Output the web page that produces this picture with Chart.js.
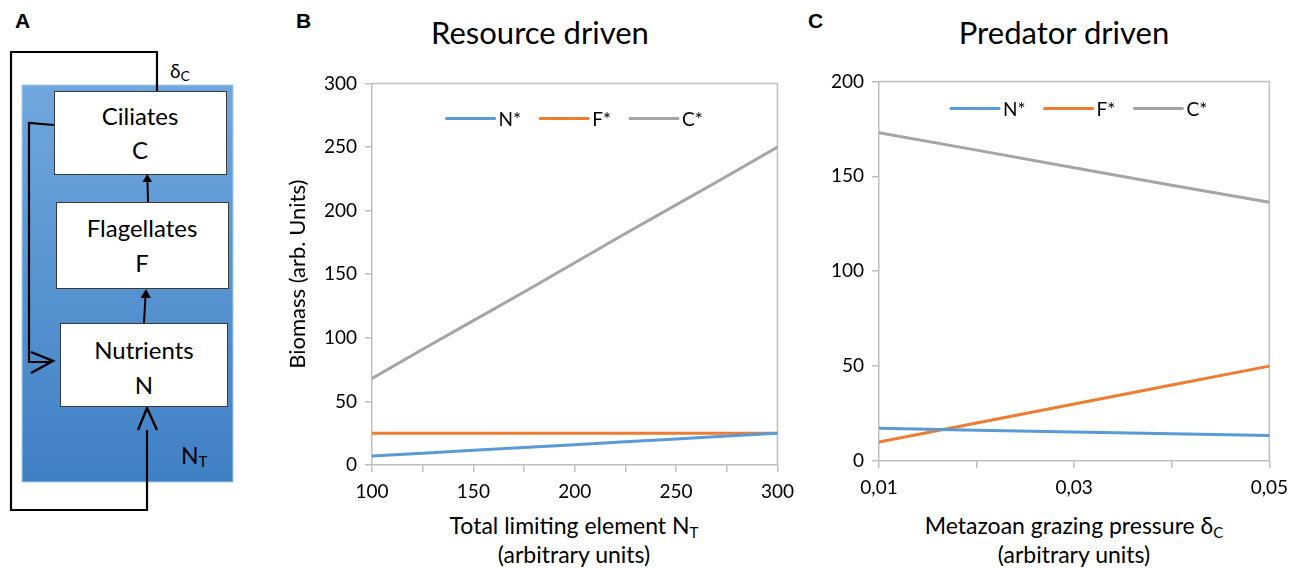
<!DOCTYPE html>
<html>
<head>
<meta charset="utf-8">
<script src="https://cdn.jsdelivr.net/npm/chart.js@4/dist/chart.umd.min.js"></script>
<style>
  html, body { margin: 0; padding: 0; background: #fff; }
  #wrap { position: relative; width: 1297px; height: 569px; overflow: hidden; font-family: Lato, "Liberation Sans", sans-serif; color: #000; }
  .abs { position: absolute; }
  .letter { font-family: "Liberation Sans", Arial, sans-serif; font-weight: bold; font-size: 21px; }
  .title { font-size: 31px; text-align: center; white-space: nowrap; }
  .xt { font-size: 23px; text-align: center; white-space: nowrap; line-height: 29px; }
  .xt sub { font-size: 15px; vertical-align: -4px; line-height: 0; }
  canvas { position: absolute; }
</style>
</head>
<body>
<div id="wrap">
  <svg class="abs" style="left:0;top:0" width="260" height="520" viewBox="0 0 260 520">
    <defs>
      <linearGradient id="bg" x1="0" y1="0" x2="0" y2="1">
        <stop offset="0" stop-color="#70a7de"/>
        <stop offset="1" stop-color="#3f80c4"/>
      </linearGradient>
    </defs>
    <rect x="22" y="85" width="211" height="397" fill="url(#bg)" stroke="#a9cbea" stroke-width="1"/>
    <!-- outer loop -->
    <polyline points="147,430 147,510 11,510 11,52 157,52 157,91" fill="none" stroke="#000" stroke-width="2.2"/>
    <polyline points="138,430 147,408 157,430" fill="none" stroke="#000" stroke-width="2.4"/>
    <!-- inner loop -->
    <polyline points="54,125 29,123 29,362 52,362" fill="none" stroke="#000" stroke-width="2.2"/>
    <polyline points="31,352 53,361 31,373" fill="none" stroke="#000" stroke-width="2.4"/>
    <!-- boxes -->
    <rect x="54.5" y="91.5" width="172" height="83" fill="#fff" stroke="#3a3a3a" stroke-width="1"/>
    <rect x="56.5" y="202.5" width="172" height="86" fill="#fff" stroke="#3a3a3a" stroke-width="1"/>
    <rect x="60.5" y="323.5" width="167" height="83" fill="#fff" stroke="#3a3a3a" stroke-width="1"/>
    <!-- small arrows -->
    <line x1="148" y1="202" x2="147.5" y2="181" stroke="#000" stroke-width="2"/>
    <polygon points="142.5,182 147.3,174 152,182" fill="#000"/>
    <line x1="144" y1="323" x2="145.5" y2="296" stroke="#000" stroke-width="2"/>
    <polygon points="140.5,298 146,289 151,298" fill="#000"/>
    <g font-family="Lato, sans-serif" font-size="24" text-anchor="middle" fill="#000">
      <text x="140" y="125">Ciliates</text>
      <text x="140" y="159">C</text>
      <text x="142" y="237">Flagellates</text>
      <text x="142" y="272">F</text>
      <text x="144" y="359">Nutrients</text>
      <text x="144" y="394">N</text>
    </g>
    <text x="170" y="78" font-family="Lato, sans-serif" font-size="19" fill="#000">δ<tspan font-size="14" dy="3">C</tspan></text>
    <text x="181" y="464" font-family="Lato, sans-serif" font-size="23" fill="#000">N<tspan font-size="15" dy="3">T</tspan></text>
  </svg>

  <div class="abs letter" style="left:15px;top:9px;">A</div>
  <div class="abs letter" style="left:296px;top:9px;">B</div>
  <div class="abs letter" style="left:808px;top:9px;">C</div>

  <div class="abs title" style="left:390px;top:13px;width:300px;">Resource driven</div>
  <div class="abs title" style="left:914px;top:13px;width:300px;">Predator driven</div>

  <canvas id="cB" width="517" height="441" style="left:285px;top:64px;width:517px;height:441px;"></canvas>
  <canvas id="cC" width="486" height="440" style="left:810px;top:62px;width:486px;height:440px;"></canvas>

  <div class="abs xt" style="left:424px;top:511px;width:300px;">Total limiting element N<sub>T</sub><br>(arbitrary units)</div>
  <div class="abs xt" style="left:924px;top:511px;width:300px;">Metazoan grazing pressure δ<sub>C</sub><br>(arbitrary units)</div>
</div>

<script>
// ---------- Data ----------
const seriesNames = ['N*', 'F*', 'C*'];
const seriesColors = ['#5b9bd5', '#ed7d31', '#a5a5a5'];

// Panel B: Resource driven
const nTotal = [100, 125, 150, 175, 200, 225, 250, 275, 300];
const resN = [7, 9.3, 11.5, 13.8, 16, 18.3, 20.5, 22.8, 25];
const resF = [25, 25, 25, 25, 25, 25, 25, 25, 25];
const resC = [68, 91, 113.5, 136, 159, 182, 204.5, 227, 250];
const resYTicks = [0, 50, 100, 150, 200, 250, 300];
const resXLabels = [100, 150, 200, 250, 300];

// Panel C: Predator driven
const deltaC = [0.01, 0.02, 0.03, 0.04, 0.05];
const predN = [17.2, 16.2, 15.3, 14.3, 13.4];
const predF = [10, 20, 30, 40, 50];
const predC = [173, 163.8, 154.5, 145.3, 136.3];
const predYTicks = [0, 50, 100, 150, 200];
const predXLabels = ['0,01', '0,03', '0,05'];

// ---------- Helpers ----------
const AX = '#bfbfbf';
const FONT = 'Lato, "Liberation Sans", sans-serif';

function ds(xs, ys, i) {
  return {
    label: seriesNames[i],
    data: xs.map((x, k) => ({ x: x, y: ys[k] })),
    borderColor: seriesColors[i],
    backgroundColor: seriesColors[i],
    borderWidth: 3,
    pointRadius: 0,
    tension: 0,
    borderCapStyle: 'round'
  };
}

const framePlugin = {
  id: 'frame',
  beforeDatasetsDraw(chart) {
    const { ctx, chartArea: a } = chart;
    ctx.save();
    ctx.strokeStyle = AX;
    ctx.lineWidth = 1.5;
    ctx.beginPath();
    ctx.moveTo(a.left, a.top);
    ctx.lineTo(a.right, a.top);
    ctx.lineTo(a.right, a.bottom);
    ctx.stroke();
    ctx.restore();
  },
  afterDatasetsDraw(chart, args, opts) {
    const { ctx, chartArea: a } = chart;
    ctx.save();
    ctx.font = '19px ' + FONT;
    ctx.textBaseline = 'middle';
    const lineLen = 48, gap = 4, itemGap = 19;
    const items = chart.data.datasets.map(d => ({ t: d.label, c: d.borderColor, w: ctx.measureText(d.label).width }));
    let total = 0;
    items.forEach((it, i) => { total += lineLen + gap + it.w + (i < items.length - 1 ? itemGap : 0); });
    let x = (a.left + a.right) / 2 - total / 2 + (opts.dx || 0);
    const y = a.top + opts.dy;
    items.forEach(it => {
      ctx.strokeStyle = it.c;
      ctx.lineWidth = 3;
      ctx.lineCap = 'round';
      ctx.beginPath();
      ctx.moveTo(x, y);
      ctx.lineTo(x + lineLen, y);
      ctx.stroke();
      ctx.fillStyle = '#000';
      ctx.fillText(it.t, x + lineLen + gap, y + 1);
      x += lineLen + gap + it.w + itemGap;
    });
    ctx.restore();
  }
};

function makeChart(id, xs, ys, cfg) {
  return new Chart(document.getElementById(id), {
    type: 'line',
    data: { datasets: ys.map((arr, i) => ds(xs, arr, i)) },
    plugins: [framePlugin],
    options: {
      responsive: false,
      animation: false,
      events: [],
      layout: { padding: cfg.padding },
      plugins: {
        legend: { display: false },
        tooltip: { enabled: false },
        frame: { dy: cfg.legendDy, dx: cfg.legendDx || 0 }
      },
      scales: {
        x: {
          type: 'linear',
          min: xs[0],
          max: xs[xs.length - 1],
          afterBuildTicks: s => { s.ticks = xs.map(v => ({ value: v })); },
          afterFit: s => { s.height = cfg.xHeight; },
          ticks: {
            autoSkip: false,
            maxRotation: 0,
            padding: cfg.xTickPad,
            color: '#000',
            font: { family: FONT, size: 19 },
            callback: (v, idx) => (idx % 2 === 0 ? cfg.xLabels[idx / 2] : '')
          },
          grid: { display: true, drawOnChartArea: false, drawTicks: true, tickLength: 7, color: AX, lineWidth: 1.5 },
          border: { display: true, color: AX, width: 1.5 }
        },
        y: {
          min: cfg.yTicks[0],
          max: cfg.yTicks[cfg.yTicks.length - 1],
          afterBuildTicks: s => { s.ticks = cfg.yTicks.map(v => ({ value: v })); },
          afterFit: s => { s.width = cfg.yWidth; },
          ticks: { padding: 8, color: '#000', font: { family: FONT, size: 19 } },
          title: cfg.yTitle ? { display: true, text: cfg.yTitle, color: '#000', font: { family: FONT, size: 22 }, padding: { top: 0, bottom: 0 } } : { display: false },
          grid: { display: true, drawOnChartArea: false, drawTicks: true, tickLength: 7, color: AX, lineWidth: 1.5 },
          border: { display: true, color: AX, width: 1.5 }
        }
      }
    }
  });
}

makeChart('cB', nTotal, [resN, resF, resC], {
  padding: { left: 0, top: 7, right: 21, bottom: 0 },
  xHeight: 40, yWidth: 87, xTickPad: 8,
  yTicks: resYTicks, xLabels: resXLabels,
  yTitle: 'Biomass (arb. Units)', legendDy: 35
});
makeChart('cC', deltaC, [predN, predF, predC], {
  padding: { left: 0, top: 11, right: 15, bottom: 0 },
  xHeight: 41, yWidth: 69, xTickPad: 8,
  yTicks: predYTicks, xLabels: predXLabels,
  yTitle: null, legendDy: 27, legendDx: 5
});
</script>
</body>
</html>
